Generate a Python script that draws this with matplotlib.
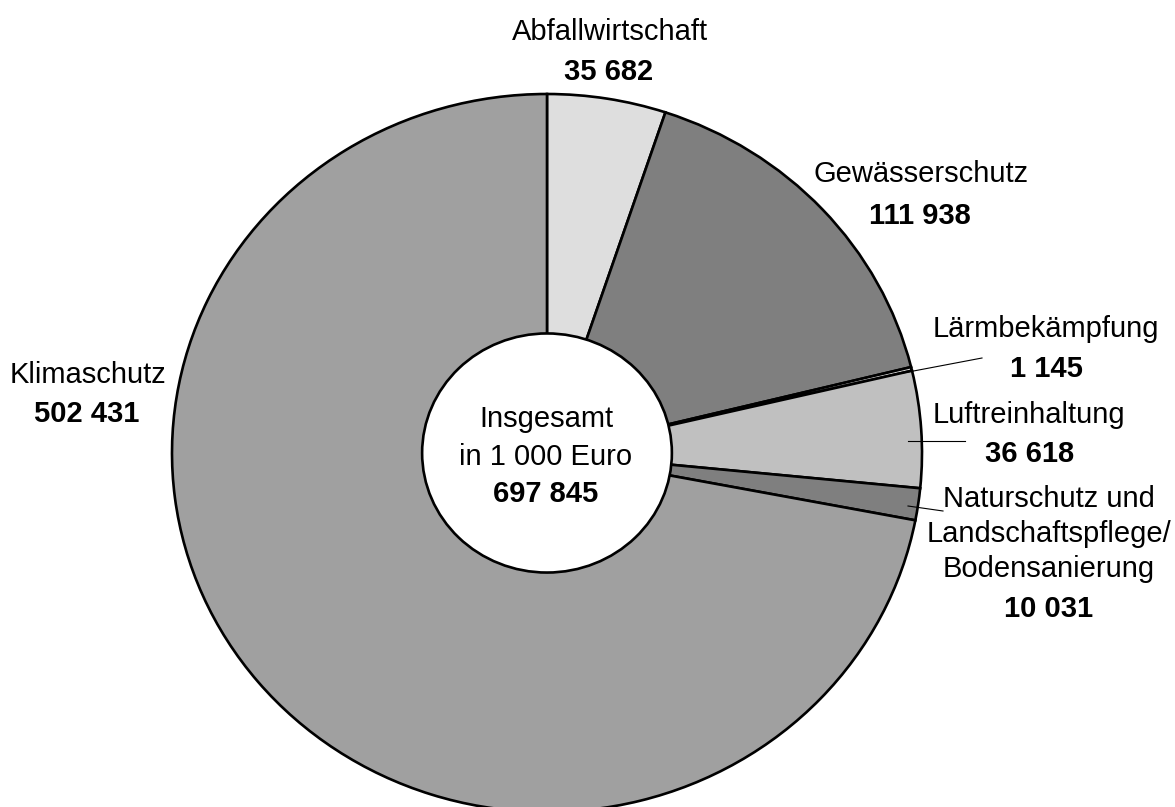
import matplotlib.pyplot as plt
from matplotlib.patches import Ellipse
from matplotlib.lines import Line2D

# Data (in 1 000 Euro)
categories = ["Abfallwirtschaft", "Gewässerschutz", "Lärmbekämpfung",
              "Luftreinhaltung",
              "Naturschutz und\nLandschaftspflege/\nBodensanierung",
              "Klimaschutz"]
values = [35682, 111938, 1145, 36618, 10031, 502431]
value_labels = ["35 682", "111 938", "1 145", "36 618", "10 031", "502 431"]
colors = ["#dedede", "#7f7f7f", "#e2e2e2", "#c0c0c0", "#7f7f7f", "#a0a0a0"]
total_label = "697 845"

W, H = 1175, 807
plt.rcParams['font.family'] = ['Liberation Sans', 'DejaVu Sans']
fig = plt.figure(figsize=(W / 100, H / 100), dpi=100)
ax = fig.add_axes([0, 0, 1, 1])

# pie centre and radii in pixels
cx, cy, rx, ry = 547, 453, 375, 359

ax.pie(values, colors=colors, startangle=90, counterclock=False,
       wedgeprops=dict(edgecolor="black", linewidth=1.9))
ax.set_aspect('auto')
ax.set_xlim(-cx / rx, (W - cx) / rx)
ax.set_ylim((cy - H) / ry, cy / ry)
ax.axis('off')

# white centre
ax.add_patch(Ellipse((0, 0), 0.666, 0.666, facecolor="white",
                     edgecolor="black", linewidth=1.9, zorder=5))


def ptext(px, py, s, bold=False):
    fig.text(px / W, 1 - py / H, s, ha='center', va='baseline',
             fontsize=21, fontweight='bold' if bold else 'normal', zorder=10)


# labels: (x centre, baseline of each name line, baseline of value)
ptext(610, 40, categories[0])
ptext(609, 80, value_labels[0], True)

ptext(921, 182, categories[1])
ptext(920, 224, value_labels[1], True)

ptext(1046, 337, categories[2])
ptext(1046, 377, value_labels[2], True)

ptext(1029, 423, categories[3])
ptext(1030, 462, value_labels[3], True)

for line, yb in zip(categories[4].split("\n"), [507, 542, 577]):
    ptext(1049, yb, line)
ptext(1049, 617, value_labels[4], True)

ptext(88, 383, categories[5])
ptext(87, 422, value_labels[5], True)

ptext(546, 427, "Insgesamt")
ptext(546, 465, "in 1 000 Euro")
ptext(546, 502, total_label, True)

# leader lines
for (x0, y0), (x1, y1) in [((903, 373), (982, 358)),
                           ((908, 441), (965, 441)),
                           ((908, 506), (943, 511))]:
    fig.add_artist(Line2D([x0 / W, x1 / W], [1 - y0 / H, 1 - y1 / H],
                          color="black", linewidth=0.8, zorder=8))

fig.savefig("out.png", dpi=100, facecolor="white")
